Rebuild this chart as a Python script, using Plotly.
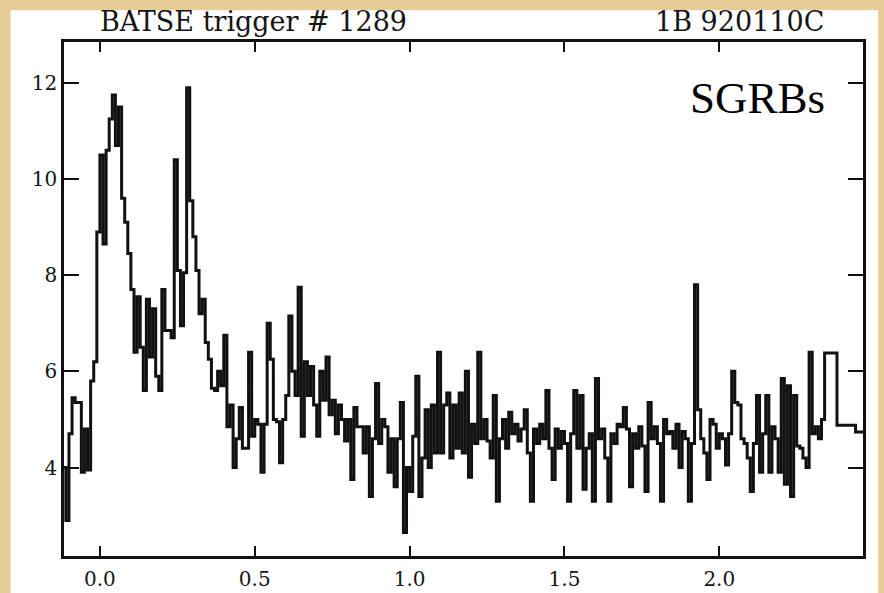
import numpy as np
import plotly.graph_objects as go

# BATSE trigger 1289 (1B 920110C) light curve, counts binned at 10 ms from t = -0.12 s
bin_width = 0.01
t_first = -0.12
rate_fine = [
    4.0, 2.9,
    4.7, 5.45, 5.35, 5.35, 3.9, 4.8, 3.95, 5.8, 6.2, 8.9,
    10.5, 8.65, 10.6, 11.25, 11.75, 10.7, 11.5, 9.6, 9.1, 8.45,
    7.7, 6.4, 7.55, 6.5, 5.6, 7.5, 6.3, 7.3, 5.9, 5.6,
    7.7, 6.85, 6.85, 6.7, 10.4, 8.1, 6.95, 8.05, 11.9, 9.55,
    8.8, 8.1, 7.2, 7.5, 6.6, 6.25, 5.65, 5.6, 6.0, 5.7,
    6.75, 4.85, 5.3, 4.0, 4.6, 5.25, 4.4, 4.4, 6.4, 4.65,
    5.0, 4.9, 3.9, 4.9, 7.0, 6.25, 5.0, 4.95, 4.1, 5.0,
    5.5, 7.15, 6.0, 5.5, 7.75, 4.65, 6.2, 5.5, 6.1, 5.3,
    4.65, 6.0, 5.4, 6.3, 5.1, 5.4, 4.7, 5.3, 5.0, 4.55,
    5.0, 3.75, 5.25, 4.85, 4.85, 4.3, 4.85, 3.4, 4.6, 5.75,
    4.5, 5.0, 4.85, 3.9, 4.6, 3.6, 4.6, 5.35, 2.65, 4.0,
    3.5, 4.65, 5.9, 3.4, 4.2, 5.2, 4.0, 5.3, 4.3, 6.4,
    4.3, 5.3, 5.55, 4.2, 5.3, 4.4, 5.55, 4.3, 6.0, 3.8,
    4.9, 4.5, 6.4, 4.6, 5.0, 4.55, 4.2, 5.5, 3.3, 4.6,
    5.0, 4.4, 5.15, 4.7, 4.9, 4.55, 4.8, 5.2, 4.3, 3.3,
    4.8, 4.5, 4.9, 4.6, 5.6, 4.4, 3.75, 4.8, 4.4, 4.75,
    4.5, 3.3, 4.7, 5.6, 4.4, 5.5, 3.55, 4.4, 4.7, 3.3,
    5.85, 4.6, 4.8, 4.2, 3.3, 4.7, 4.5, 4.9, 4.85, 5.25,
    4.8, 3.6, 4.7, 4.4, 4.85, 4.45, 3.5, 5.35, 4.6, 4.85,
    4.5, 3.3, 5.0, 4.7, 4.75, 4.4, 4.9, 4.0, 4.75, 4.6,
    3.3, 4.5, 7.8, 5.2, 4.6, 4.3, 3.75, 5.0, 4.9, 4.4,
    4.7, 4.6, 4.05, 4.7, 6.0, 5.35, 5.3, 4.6, 4.5, 4.2,
    3.5, 4.5, 5.5, 3.9, 4.7, 5.5, 3.9, 4.85, 4.6, 3.9,
    5.85, 3.65, 5.7, 3.4, 5.5, 4.45, 4.4, 4.2, 4.0, 6.4,
    4.7, 4.85, 4.6, 5.0,
]
# coarser bins at the end of the record
tail_edges = [2.34, 2.38, 2.44, 2.47]
tail_rate = [6.38, 4.88, 4.74]

x_ticks = [0.0, 0.5, 1.0, 1.5, 2.0]
x_tick_text = ["0.0", "0.5", "1.0", "1.5", "2.0"]
y_ticks = [4, 6, 8, 10, 12]
y_tick_text = ["4", "6", "8", "10", "12"]

title_left = "BATSE trigger # 1289"
title_right = "1B 920110C"
label = "SGRBs"

# assemble step edges / values
fine_starts = t_first + bin_width * np.arange(len(rate_fine))
starts = np.concatenate([fine_starts, tail_edges[:-1]])
values = np.concatenate([rate_fine, tail_rate])
x_step = np.append(starts, tail_edges[-1])
y_step = np.append(values, values[-1])

parchment = "#e6cd97"
ink = "#111111"
tick_font = dict(family="DejaVu Serif", size=20, color="#151515")

fig = go.Figure()
fig.add_trace(go.Scatter(
    x=x_step, y=y_step, mode="lines",
    line=dict(shape="hv", color=ink, width=3.0),
    hoverinfo="skip", showlegend=False,
))

# white sheet behind the plot
fig.add_shape(type="rect", xref="paper", yref="paper",
              x0=-0.067, x1=1.019, y0=-0.2, y1=1.062,
              fillcolor="white", line=dict(width=0), layer="below")

fig.add_annotation(xref="paper", yref="paper", x=0.043, y=1.039,
                   text=title_left, showarrow=False, xanchor="left", yanchor="middle",
                   font=dict(family="DejaVu Serif", size=27, color="#151515"))
fig.add_annotation(xref="paper", yref="paper", x=0.954, y=1.039,
                   text=title_right, showarrow=False, xanchor="right", yanchor="middle",
                   font=dict(family="DejaVu Serif", size=27, color="#151515"))
fig.add_annotation(xref="paper", yref="paper", x=0.781, y=0.892,
                   text=label, showarrow=False, xanchor="left", yanchor="middle",
                   font=dict(family="Liberation Serif", size=45, color="black"))

fig.update_xaxes(
    range=[-0.116, 2.464], tickvals=x_ticks, ticktext=x_tick_text,
    ticks="inside", ticklen=10, tickwidth=2, tickcolor=ink,
    showline=True, linecolor=ink, linewidth=2.5, mirror="ticks",
    showgrid=False, zeroline=False, tickfont=tick_font, ticklabelstandoff=3,
    automargin=False,
)
fig.update_yaxes(
    range=[2.16, 12.85], tickvals=y_ticks, ticktext=y_tick_text,
    ticks="inside", ticklen=15, tickwidth=2, tickcolor=ink,
    showline=True, linecolor=ink, linewidth=2.5, mirror="ticks",
    showgrid=False, zeroline=False, tickfont=tick_font, ticklabelstandoff=0,
    automargin=False,
)
fig.update_layout(
    width=884, height=593,
    margin=dict(l=64, r=21, t=42, b=37, autoexpand=False),
    paper_bgcolor=parchment, plot_bgcolor="white",
)

fig.write_html("out.html")
